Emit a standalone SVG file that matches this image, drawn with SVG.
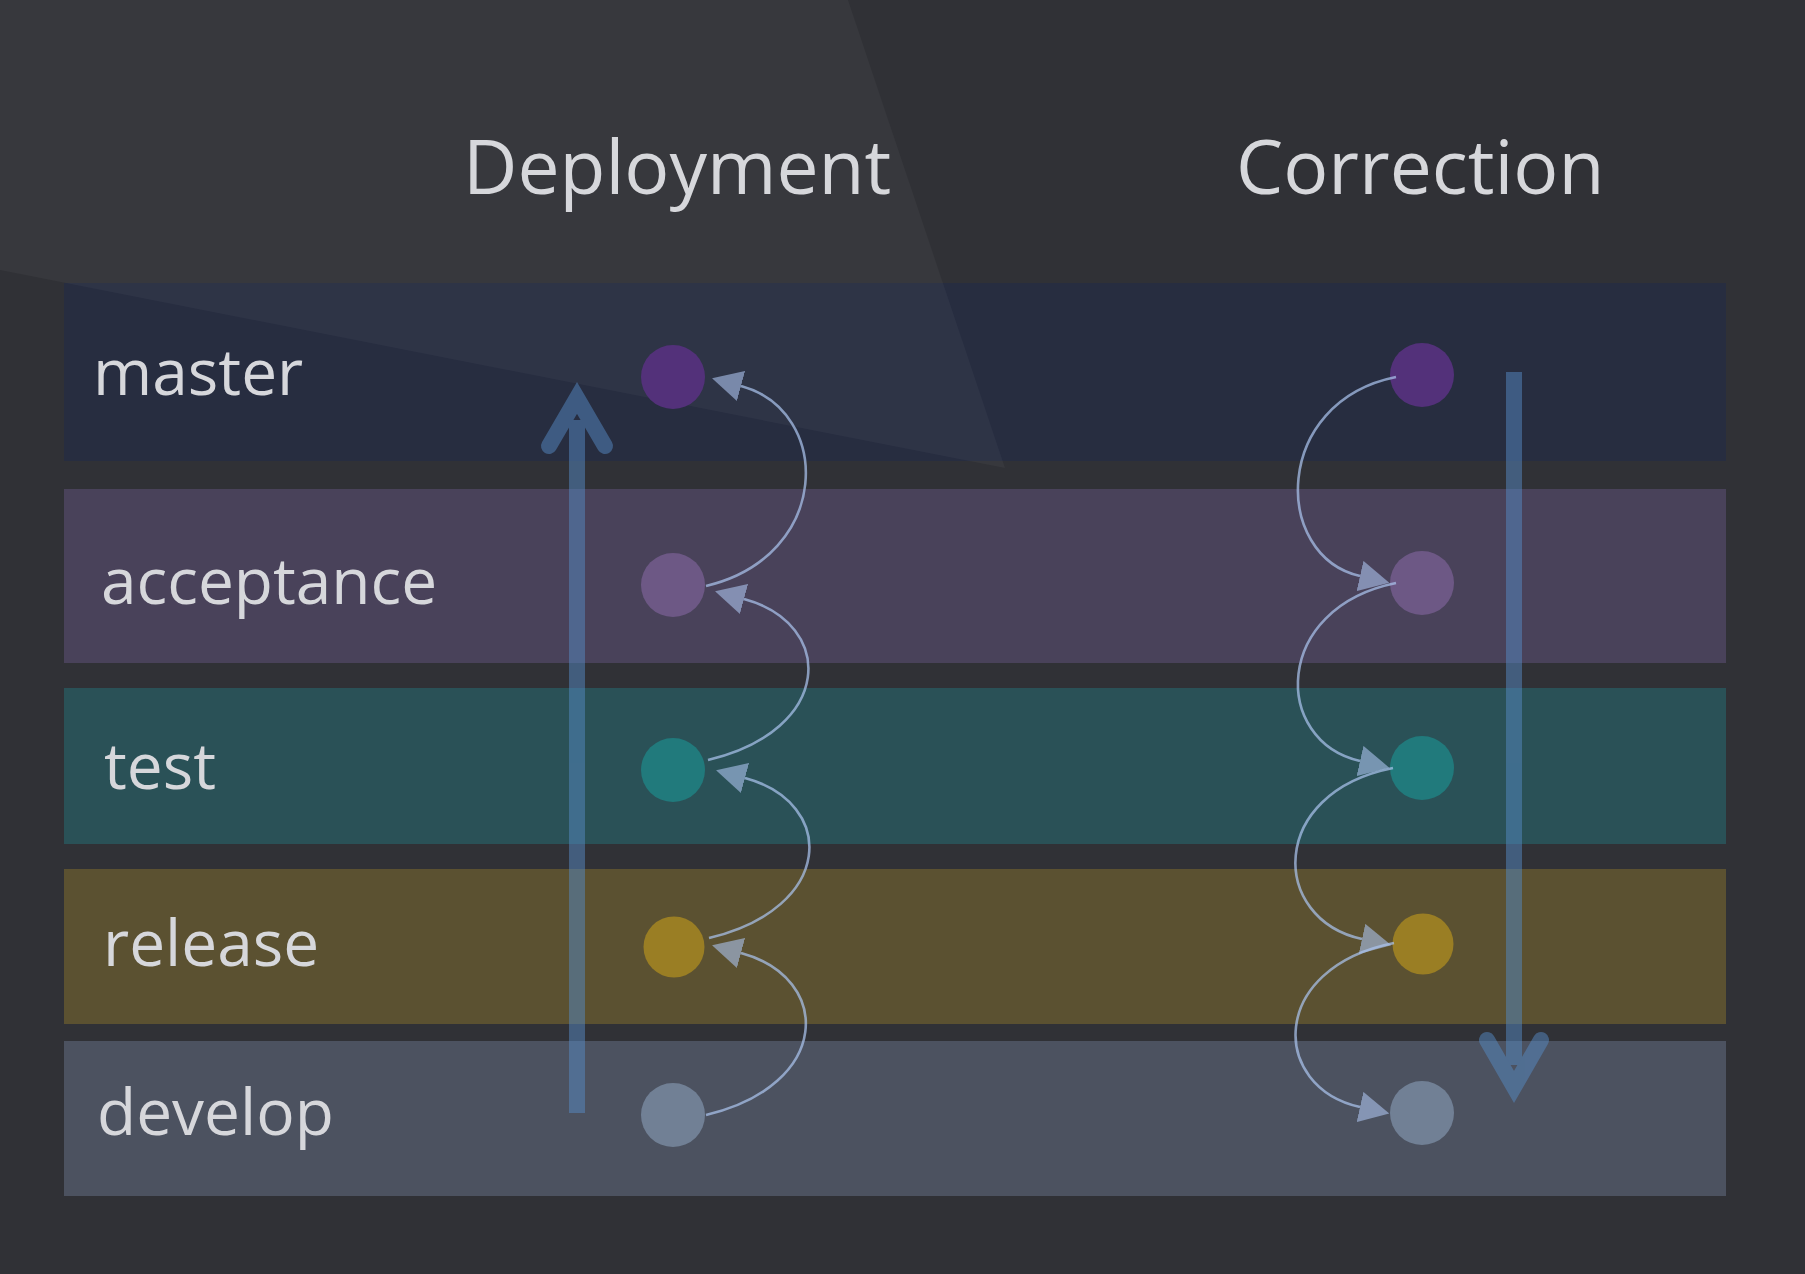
<svg xmlns="http://www.w3.org/2000/svg" width="1805" height="1274" viewBox="0 0 1805 1274">
  <defs>
    <style>
      .label { font-family: "Open Sans", "Noto Sans", "DejaVu Sans", sans-serif; font-size: 64px; fill: #d6d7db; }
      .title { font-family: "Open Sans", "Noto Sans", "DejaVu Sans", sans-serif; font-size: 75px; fill: #d6d7db; }
      .flow { fill: none; stroke: #abc3ed; stroke-opacity: 0.72; stroke-width: 2.6; marker-end: url(#head); }
      .big { fill: none; stroke: #558ac3; stroke-width: 16; }
    </style>
    <marker id="head" markerUnits="userSpaceOnUse" viewBox="0 0 30 31" refX="0" refY="15.5" markerWidth="30" markerHeight="31" orient="auto">
      <path d="M0,0 L30,15.5 L0,31 z" fill="#abc3ed" fill-opacity="0.6"/>
    </marker>
  </defs>

  <rect x="0" y="0" width="1805" height="1274" fill="#303136"/>

  <g id="lanes">
    <g id="lane-master">
      <rect x="64" y="283" width="1662" height="178" fill="#272d40"/>
      <text class="label" x="93" y="395">master</text>
    </g>
    <g id="lane-acceptance">
      <rect x="64" y="489" width="1662" height="174" fill="#49425a"/>
      <text class="label" x="101" y="604">acceptance</text>
    </g>
    <g id="lane-test">
      <rect x="64" y="688" width="1662" height="156" fill="#2a5157"/>
      <text class="label" x="104" y="789">test</text>
    </g>
    <g id="lane-release">
      <rect x="64" y="869" width="1662" height="155" fill="#5b5131"/>
      <text class="label" x="103" y="966">release</text>
    </g>
    <g id="lane-develop">
      <rect x="64" y="1041" width="1662" height="155" fill="#4c5260"/>
      <text class="label" x="97" y="1135">develop</text>
    </g>
  </g>

  <polygon points="0,0 848,0 1005,468 0,270" fill="#ffffff" fill-opacity="0.035"/>

  <g id="titles">
    <text class="title" x="463" y="194">Deployment</text>
    <text class="title" x="1236" y="194">Correction</text>
  </g>

  <g id="big-arrows" opacity="0.5">
    <g id="deploy-arrow">
      <line class="big" x1="577" y1="1113" x2="577" y2="420"/>
      <polyline class="big" points="549,446 577,398 605,446" stroke-width="17" stroke-linecap="round" stroke-linejoin="miter" stroke-miterlimit="10"/>
    </g>
    <g id="correct-arrow">
      <line class="big" x1="1514" y1="372" x2="1514" y2="1065"/>
      <polyline class="big" points="1487,1040 1514,1087 1541,1040" stroke-width="17" stroke-linecap="round" stroke-linejoin="miter" stroke-miterlimit="10"/>
    </g>
  </g>

  <g id="deploy-master"><circle cx="673" cy="377" r="32" fill="#53317a"/></g>
  <g id="deploy-acceptance"><circle cx="673" cy="585" r="32" fill="#6d5885"/></g>
  <g id="deploy-test"><circle cx="673" cy="770" r="32" fill="#217a7c"/></g>
  <g id="deploy-release"><circle cx="674" cy="947" r="30.5" fill="#9a7e24"/></g>
  <g id="deploy-develop"><circle cx="673" cy="1115" r="32" fill="#718095"/></g>

  <g id="correct-master"><circle cx="1422" cy="375" r="32" fill="#53317a"/></g>
  <g id="correct-acceptance"><circle cx="1422" cy="583" r="32" fill="#6d5885"/></g>
  <g id="correct-test"><circle cx="1422" cy="768" r="32" fill="#217a7c"/></g>
  <g id="correct-release"><circle cx="1423" cy="944" r="30.5" fill="#9a7e24"/></g>
  <g id="correct-develop"><circle cx="1422" cy="1113" r="32" fill="#718095"/></g>

  <g id="connectors">
    <path class="flow" d="M706,586 C832,556 833,411 741,386"/>
    <path class="flow" d="M708,760 C834,730 836,624 744,599"/>
    <path class="flow" d="M709,938 C835,908 837,803 745,778"/>
    <path class="flow" d="M706,1115 C832,1085 833,978 741,953"/>

    <path class="flow" d="M1396,377 C1272,402 1272,556 1360,576"/>
    <path class="flow" d="M1396,583 C1272,608 1272,741 1360,761"/>
    <path class="flow" d="M1393,768 C1267,793 1270,919 1362,939"/>
    <path class="flow" d="M1394,943 C1268,968 1270,1087 1360,1107"/>
  </g>
</svg>
